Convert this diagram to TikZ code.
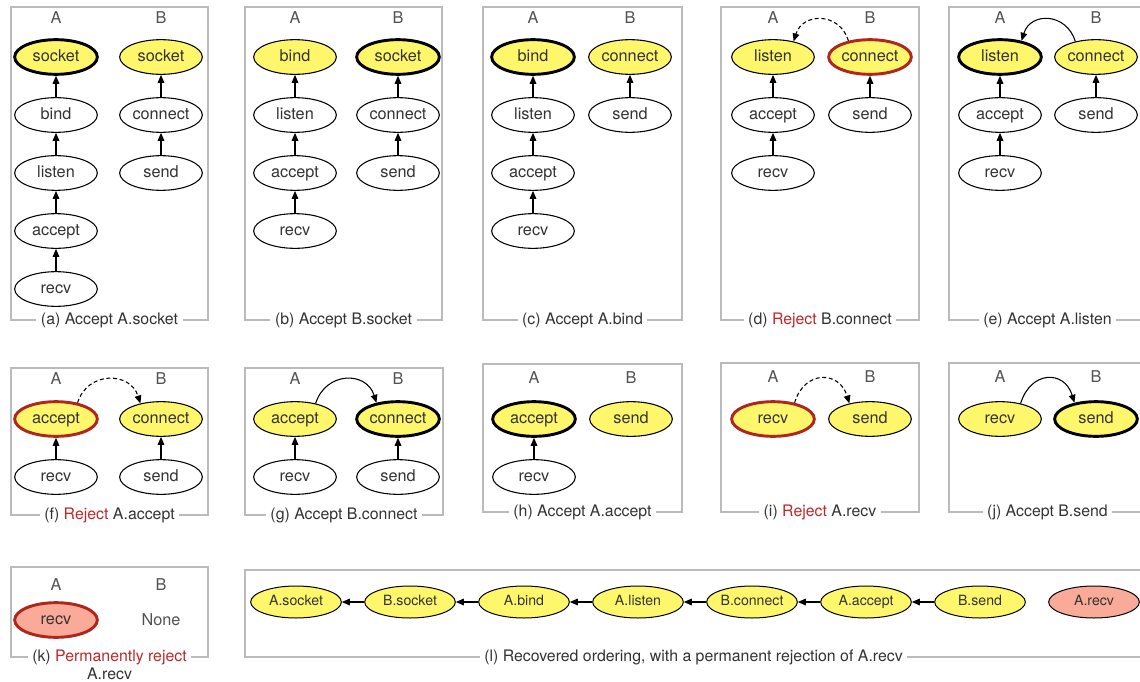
\documentclass[tikz,border=0pt]{standalone}
\usepackage{fontspec}
\setmainfont{TeX Gyre Heros}
\usetikzlibrary{shapes.geometric,arrows.meta}
\definecolor{yel}{HTML}{FFF76B}
\definecolor{salm}{HTML}{F9AA99}
\definecolor{dred}{HTML}{B0261C}
\definecolor{rtxt}{HTML}{C0282A}
\definecolor{boxg}{HTML}{BBBBBB}
\definecolor{txt}{HTML}{333333}
\begin{document}
\begin{tikzpicture}[x=0.75pt,y=-0.75pt,
  nd/.style={ellipse,draw=black,line width=0.8pt,minimum width=62pt,minimum height=26pt,inner sep=0pt,text=txt,font=\fontsize{12.2}{14}\selectfont,text height=8.6pt,text depth=2.4pt},
  yl/.style={nd,fill=yel},
  cur/.style={line width=2.2pt},
  rej/.style={draw=dred,line width=2.2pt},
  perm/.style={nd,fill=salm,draw=dred,line width=2.2pt},
  lnd/.style={ellipse,draw=black,line width=0.75pt,minimum width=68pt,minimum height=24pt,inner sep=0pt,fill=yel,text=txt,font=\fontsize{10.6}{13}\selectfont,text height=7.6pt,text depth=2pt},
  lbl/.style={text=txt!85,font=\fontsize{12.2}{14}\selectfont,inner sep=0pt},
  pbox/.style={draw=boxg,line width=1pt},
  capt/.style={fill=white,text=txt,font=\fontsize{11.9}{14}\selectfont,inner xsep=3.5pt,inner ysep=1pt},
  arr/.style={-{Triangle[length=6pt,width=5pt]},line width=0.8pt,draw=black},
  dsh/.style={arr,dash pattern=on 3pt off 2pt}
]
\useasboundingbox (0,0) rectangle (1140,682);
\clip (0,0) rectangle (1140,682);

% ---------- (a) ----------
\draw[pbox] (11,7) rectangle (208,320);
\node[lbl] (aLA) at (56,18) {A};
\node[lbl] (aLB) at (161,18) {B};
\node[yl,cur] (a1) at (56,57) {socket};
\node[nd] (a2) at (56,115) {bind};
\node[nd] (a3) at (56,173) {listen};
\node[nd] (a4) at (56,231) {accept};
\node[nd] (a5) at (56,289) {recv};
\node[yl] (a6) at (161,57) {socket};
\node[nd] (a7) at (161,115) {connect};
\node[nd] (a8) at (161,173) {send};
\draw[arr] (a2) -- (a1);
\draw[arr] (a3) -- (a2);
\draw[arr] (a4) -- (a3);
\draw[arr] (a5) -- (a4);
\draw[arr] (a7) -- (a6);
\draw[arr] (a8) -- (a7);
\node[capt] (aC) at (109.5,320) {(a) Accept A.socket};

% ---------- (b) ----------
\draw[pbox] (245,7) rectangle (442,320);
\node[lbl] (bLA) at (295,18) {A};
\node[lbl] (bLB) at (398,18) {B};
\node[yl] (b1) at (295,57) {bind};
\node[nd] (b2) at (295,115) {listen};
\node[nd] (b3) at (295,173) {accept};
\node[nd] (b4) at (295,231) {recv};
\node[yl,cur] (b5) at (398,57) {socket};
\node[nd] (b6) at (398,115) {connect};
\node[nd] (b7) at (398,173) {send};
\draw[arr] (b2) -- (b1);
\draw[arr] (b3) -- (b2);
\draw[arr] (b4) -- (b3);
\draw[arr] (b6) -- (b5);
\draw[arr] (b7) -- (b6);
\node[capt] (bC) at (343.5,320) {(b) Accept B.socket};

% ---------- (c) ----------
\draw[pbox] (483,7) rectangle (682,320);
\node[lbl] (cLA) at (533,18) {A};
\node[lbl] (cLB) at (630,18) {B};
\node[yl,cur] (c1) at (533,57) {bind};
\node[nd] (c2) at (533,115) {listen};
\node[nd] (c3) at (533,173) {accept};
\node[nd] (c4) at (533,231) {recv};
\node[yl] (c5) at (630,57) {connect};
\node[nd] (c6) at (630,115) {send};
\draw[arr] (c2) -- (c1);
\draw[arr] (c3) -- (c2);
\draw[arr] (c4) -- (c3);
\draw[arr] (c6) -- (c5);
\node[capt] (cC) at (582.5,320) {(c) Accept A.bind};

% ---------- (d) ----------
\draw[pbox] (721,7) rectangle (919,320);
\node[lbl] (dLA) at (773,18) {A};
\node[lbl] (dLB) at (870,18) {B};
\node[yl] (d1) at (773,57) {listen};
\node[nd] (d2) at (773,115) {accept};
\node[nd] (d3) at (773,173) {recv};
\node[yl,rej] (d4) at (870,57) {connect};
\node[nd] (d5) at (870,115) {send};
\draw[arr] (d2) -- (d1);
\draw[arr] (d3) -- (d2);
\draw[arr] (d5) -- (d4);
\draw[dsh] (d4.143) .. controls +(-9,-29) and +(9,-29) .. (d1.37);
\node[capt] (dC) at (820,320) {(d) \textcolor{rtxt}{Reject} B.connect};

% ---------- (e) ----------
\draw[pbox] (949,7) rectangle (1146,320);
\node[lbl] (eLA) at (1000,18) {A};
\node[lbl] (eLB) at (1096,18) {B};
\node[yl,cur] (e1) at (1000,57) {listen};
\node[nd] (e2) at (1000,115) {accept};
\node[nd] (e3) at (1000,173) {recv};
\node[yl] (e4) at (1096,57) {connect};
\node[nd] (e5) at (1096,115) {send};
\draw[arr] (e2) -- (e1);
\draw[arr] (e3) -- (e2);
\draw[arr] (e5) -- (e4);
\draw[arr] (e4.143) .. controls +(-9,-29) and +(9,-29) .. (e1.37);
\node[capt] (eC) at (1047.5,320) {(e) Accept A.listen};

% ---------- (f) ----------
\draw[pbox] (11,368) rectangle (208,515);
\node[lbl] (fLA) at (56,379) {A};
\node[lbl] (fLB) at (161,379) {B};
\node[yl,rej] (f1) at (56,419) {accept};
\node[nd] (f2) at (56,477) {recv};
\node[yl] (f3) at (161,419) {connect};
\node[nd] (f4) at (161,477) {send};
\draw[arr] (f2) -- (f1);
\draw[arr] (f4) -- (f3);
\draw[dsh] (f1.37) .. controls +(10,-32) and +(-10,-32) .. (f3.143);
\node[capt] (fC) at (109.5,515) {(f) \textcolor{rtxt}{Reject} A.accept};

% ---------- (g) ----------
\draw[pbox] (245,368) rectangle (443,515);
\node[lbl] (gLA) at (295,379) {A};
\node[lbl] (gLB) at (398,379) {B};
\node[yl] (g1) at (295,419) {accept};
\node[nd] (g2) at (295,477) {recv};
\node[yl,cur] (g3) at (398,419) {connect};
\node[nd] (g4) at (398,477) {send};
\draw[arr] (g2) -- (g1);
\draw[arr] (g4) -- (g3);
\draw[arr] (g1.37) .. controls +(10,-32) and +(-10,-32) .. (g3.143);
\node[capt] (gC) at (344,515) {(g) Accept B.connect};

% ---------- (h) ----------
\draw[pbox] (483,364) rectangle (682,512);
\node[lbl] (hLA) at (534,378) {A};
\node[lbl] (hLB) at (631,378) {B};
\node[yl,cur] (h1) at (534,419) {accept};
\node[nd] (h2) at (534,477) {recv};
\node[yl] (h3) at (631,419) {send};
\draw[arr] (h2) -- (h1);
\node[capt] (hC) at (582.5,512) {(h) Accept A.accept};

% ---------- (i) ----------
\draw[pbox] (721,363) rectangle (919,512);
\node[lbl] (iLA) at (773,377) {A};
\node[lbl] (iLB) at (870,377) {B};
\node[yl,rej] (i1) at (773,419) {recv};
\node[yl] (i2) at (870,419) {send};
\draw[dsh] (i1.37) .. controls +(10,-33) and +(-10,-33) .. (i2.143);
\node[capt] (iC) at (820,512) {(i) \textcolor{rtxt}{Reject} A.recv};

% ---------- (j) ----------
\draw[pbox] (949,363) rectangle (1146,512);
\node[lbl] (jLA) at (1000,377) {A};
\node[lbl] (jLB) at (1096,377) {B};
\node[yl] (j1) at (1000,419) {recv};
\node[yl,cur] (j2) at (1096,419) {send};
\draw[arr] (j1.37) .. controls +(10,-33) and +(-10,-33) .. (j2.143);
\node[capt] (jC) at (1047.5,512) {(j) Accept B.send};

% ---------- (k) ----------
\draw[pbox] (11,567) rectangle (208,657);
\node[lbl] (kLA) at (56,585) {A};
\node[lbl] (kLB) at (161,585) {B};
\node[perm] (k1) at (56,620) {recv};
\node[lbl] (k2) at (161,620) {None};
\node[capt] (kC) at (109.5,657) {(k) \textcolor{rtxt}{Permanently reject}};
\node[capt] (kC2) at (109.5,673.5) {A.recv};

% ---------- (l) ----------
\draw[pbox] (245,570) rectangle (1142,657);
\node[lnd] (l1) at (296,602) {A.socket};
\node[lnd] (l2) at (410,602) {B.socket};
\node[lnd] (l3) at (524,602) {A.bind};
\node[lnd] (l4) at (638,602) {A.listen};
\node[lnd] (l5) at (752,602) {B.connect};
\node[lnd] (l6) at (866,602) {A.accept};
\node[lnd] (l7) at (980,602) {B.send};
\node[lnd,fill=salm] (l8) at (1094,602) {A.recv};
\draw[arr] (l2) -- (l1);
\draw[arr] (l3) -- (l2);
\draw[arr] (l4) -- (l3);
\draw[arr] (l5) -- (l4);
\draw[arr] (l6) -- (l5);
\draw[arr] (l7) -- (l6);
\node[capt] (lC) at (693.5,657) {(l) Recovered ordering, with a permanent rejection of A.recv};
\end{tikzpicture}
\end{document}
